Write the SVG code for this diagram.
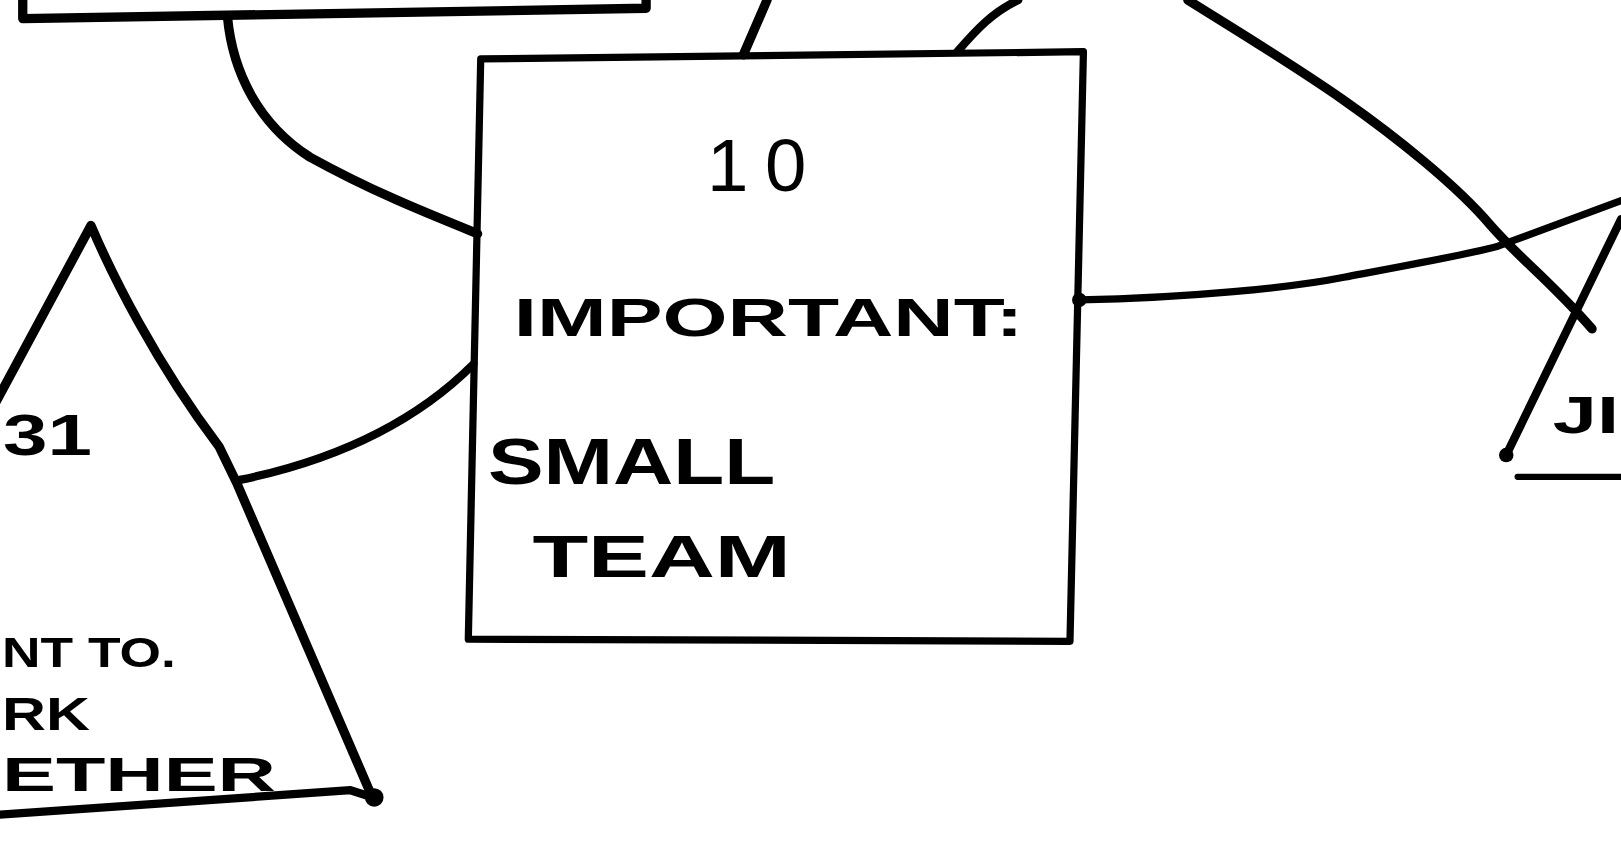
<svg xmlns="http://www.w3.org/2000/svg" width="1621" height="844" viewBox="0 0 1621 844">
<style>
.ln{fill:none;stroke:#000;stroke-linecap:round;stroke-linejoin:round}
.t{font-family:"Liberation Sans","DejaVu Sans",sans-serif;font-weight:bold;fill:#000}
</style>
<rect width="1621" height="844" fill="#fff"/>
<g transform="scale(1.0338,1.0343)">
<g id="connectors">
<path class="ln" stroke-width="9" d="M220,16 C225,70 250,120 300,152 C360,185 410,205 462,226"/>
<path class="ln" stroke-width="8" d="M232,464 C300,450 390,420 458,352"/>
<path class="ln" stroke-width="9" d="M742,0 L719,53"/>
<path class="ln" stroke-width="8" d="M926,50 C945,28 960,12 985,0"/>
<path class="ln" stroke-width="7" d="M1044,290 C1150,288 1250,278 1300,268 C1370,255 1420,246 1449,238 L1568,194"/>
<path class="ln" stroke-width="9" d="M1149,0 C1200,32 1250,62 1300,97 C1350,132 1410,180 1442,218 C1470,250 1500,272 1540,318"/>
<circle cx="1044" cy="290" r="7" fill="#000"/>
</g>
<g id="node-topleft">
<path class="ln" stroke-width="9" d="M22,0 L22,18 L625,8 L625,0"/>
</g>
<g id="node-10">
<path class="ln" stroke-width="7" d="M465,57 L1048,50 L1035,620 L453,618 Z"/>
<text class="t" x="740" y="185" font-size="72" text-anchor="middle" letter-spacing="16" style="font-weight:normal">10</text>
<text class="t" x="497" y="325" font-size="52" textLength="493" lengthAdjust="spacingAndGlyphs">IMPORTANT:</text>
<text class="t" x="472" y="468" font-size="62" textLength="278" lengthAdjust="spacingAndGlyphs">SMALL</text>
<text class="t" x="515" y="558" font-size="58" textLength="250" lengthAdjust="spacingAndGlyphs">TEAM</text>
</g>
<g id="node-31">
<path class="ln" stroke-width="9" d="M-10,400 L88,218 C108,265 150,350 212,432 L229,467 L358,766"/>
<path class="ln" stroke-width="8" d="M-5,788 L339,764 L364,772"/>
<circle cx="362" cy="771" r="9" fill="#000"/>
<text class="t" x="3" y="440" font-size="56" textLength="86" lengthAdjust="spacingAndGlyphs">31</text>
<text class="t" x="2" y="645" font-size="42" textLength="168" lengthAdjust="spacingAndGlyphs">NT TO.</text>
<text class="t" x="2" y="706" font-size="44" textLength="85" lengthAdjust="spacingAndGlyphs">RK</text>
<text class="t" x="2" y="765" font-size="46" textLength="265" lengthAdjust="spacingAndGlyphs">ETHER</text>
</g>
<g id="node-right">
<path class="ln" stroke-width="8" d="M1568,212 L1456,442"/>
<circle cx="1457" cy="440" r="7" fill="#000"/>
<path class="ln" stroke-width="6" d="M1468,461 L1575,461"/>
<text class="t" x="1502" y="419" font-size="50" textLength="64" lengthAdjust="spacingAndGlyphs">JI</text>
</g>
</g>
</svg>
